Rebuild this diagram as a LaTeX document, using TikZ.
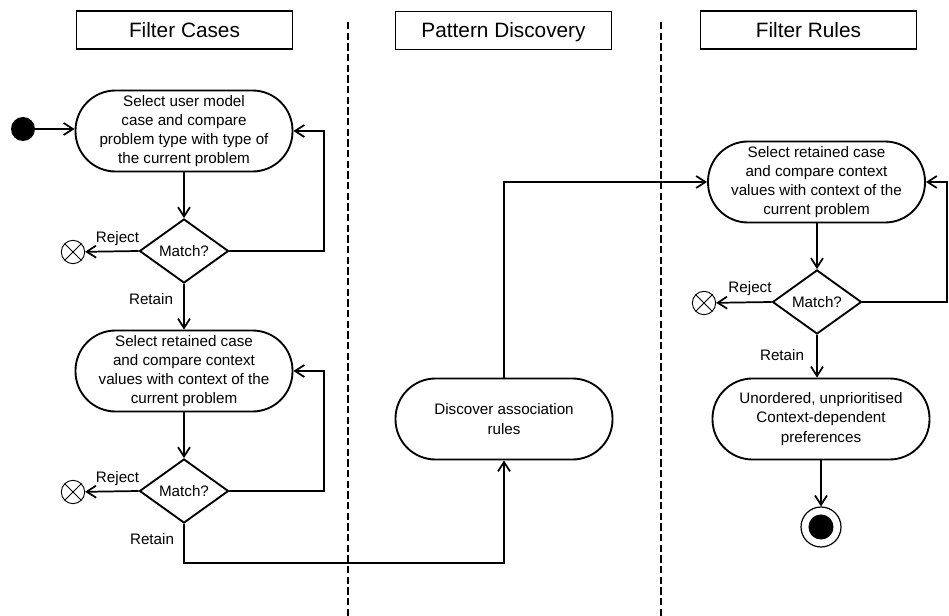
\documentclass[tikz,border=0pt]{standalone}
\usepackage{fontspec}
\setmainfont{Liberation Sans}
\usetikzlibrary{shapes.geometric,arrows.meta}

\tikzset{
  lanehead/.style={draw,line width=1.3pt,minimum width=162pt,minimum height=28.5pt,inner sep=0pt,text height=11.2pt,text depth=0pt,font=\fontsize{15.6}{18}\selectfont},
  activity/.style={draw,line width=1.4pt,rounded corners=30pt,minimum width=162.75pt,minimum height=60.75pt,inner sep=1pt,align=center,font=\fontsize{11.4}{14.4}\selectfont},
  decision/.style={draw,diamond,line width=1.4pt,minimum width=66.75pt,minimum height=48pt,inner sep=0pt,aspect=1.4,font=\fontsize{11.4}{14.4}\selectfont},
  startdot/.style={circle,fill=black,minimum size=18pt,inner sep=0pt},
  enddot/.style={circle,draw,line width=0.9pt,minimum size=30pt,inner sep=0pt,path picture={\fill (path picture bounding box.center) circle (9.4pt);}},
  flowend/.style={circle,draw,line width=0.7pt,minimum size=17.5pt,inner sep=0pt,path picture={\draw[line width=0.7pt] (path picture bounding box.north west) -- (path picture bounding box.south east) (path picture bounding box.north east) -- (path picture bounding box.south west);}},
  flow/.style={line width=1.3pt,-{Straight Barb[length=7pt,width=9pt]}},
  lane/.style={line width=1.2pt,dash pattern=on 5.5pt off 2.5pt},
  lbl/.style={inner sep=0.75pt,font=\fontsize{11.4}{14.4}\selectfont}
}

\begin{document}
\begin{tikzpicture}[x=0.75pt,y=0.75pt,yscale=-1,xscale=1]

\useasboundingbox (0,0) rectangle (949,616);

\draw [lane] (348,22) -- (348,616);
\draw [lane] (661,22) -- (661,616);

\draw (184.5,30) node (hdrCases) [lanehead] {Filter Cases};
\draw (503.5,30.5) node (hdrPattern) [lanehead] {Pattern Discovery};
\draw (808.5,30) node (hdrRules) [lanehead] {Filter Rules};

\draw (23,129) node (start) [startdot] {};
\draw (184,131) node (selCase) [activity] {Select user model\\case and compare\\problem type with type of\\the current problem};
\draw (184,251) node (match1) [decision] {Match?};
\draw (73,252) node (rej1) [flowend] {};
\draw (184,371) node (selCtx) [activity] {Select retained case\\and compare context\\values with context of the\\current problem};
\draw (184,491) node (match2) [decision] {Match?};
\draw (73,492) node (rej2) [flowend] {};

\draw (504,419) node (discover) [activity] {Discover association\\rules};

\draw (816.5,182) node (selRule) [activity] {Select retained case\\and compare context\\values with context of the\\current problem};
\draw (817,302) node (match3) [decision] {Match?};
\draw (704,303) node (rej3) [flowend] {};
\draw (821,419) node (prefs) [activity] {Unordered, unprioritised\\Context-dependent\\preferences};
\draw (821,527) node (finish) [enddot] {};

\coordinate (loop1) at (324,131);
\coordinate (loop2) at (324,371);
\coordinate (turn2) at (504,563);
\coordinate (loop3) at (947,182);

\draw [flow] (start.east) -- (start -| selCase.west);
\draw [flow] (selCase) -- (match1);
\draw [flow] (match1.west) -- (rej1);
\draw [flow] (match1.east) -| (loop1) -- (selCase.east);
\draw [flow] (match1) -- (selCtx);
\draw [flow] (selCtx) -- (match2);
\draw [flow] (match2.west) -- (rej2);
\draw [flow] (match2.east) -| (loop2) -- (selCtx.east);
\draw [flow] (match2.south) |- (turn2) -- (discover.south);
\draw [flow] (discover.north) |- (selRule.west);
\draw [flow] (selRule.south -| match3) -- (match3);
\draw [flow] (match3.west) -- (rej3);
\draw [flow] (match3.east) -| (loop3) -- (selRule.east);
\draw [flow] (match3.south) -- (match3.south |- prefs.north);
\draw [flow] (prefs) -- (finish);

\draw (117.5,239) node (rejLbl1) [lbl] {Reject};
\draw (151,299) node (retLbl1) [lbl] {Retain};
\draw (117.5,479) node (rejLbl2) [lbl] {Reject};
\draw (152,539) node (retLbl2) [lbl] {Retain};
\draw (750,289) node (rejLbl3) [lbl] {Reject};
\draw (782,355) node (retLbl3) [lbl] {Retain};

\end{tikzpicture}
\end{document}
